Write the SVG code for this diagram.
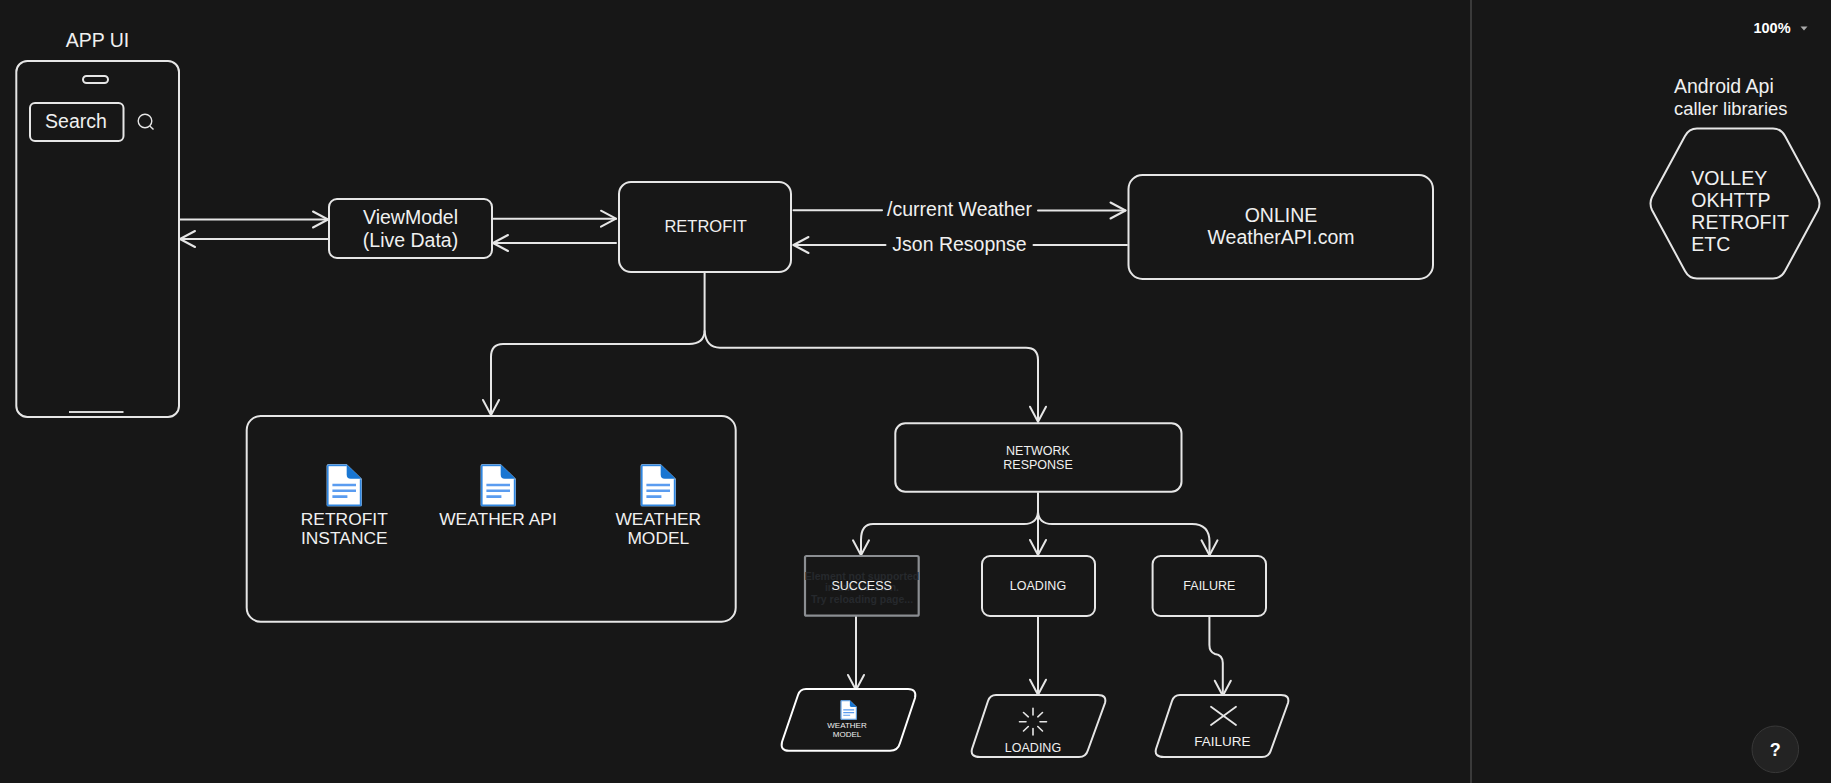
<svg xmlns="http://www.w3.org/2000/svg" xmlns:xlink="http://www.w3.org/1999/xlink" width="1831" height="783" viewBox="0 0 1831 783">
<style>
text{font-family:"Liberation Sans",Arial,sans-serif;fill:#f0f0f0;text-anchor:middle}
.b{fill:#171717;stroke:#e6e6e6;stroke-width:2}
.l{fill:none;stroke:#e6e6e6;stroke-width:2;stroke-linejoin:round;stroke-linecap:round}
.a{marker-end:url(#arrow)}
.t19{font-size:19.5px}
.t17{font-size:17.4px}
.t12{font-size:12.5px}
.st{text-anchor:start}
</style>
<defs>
<marker id="arrow" markerUnits="userSpaceOnUse" viewBox="-17 -10 19 20" markerWidth="19" markerHeight="20" refX="0" refY="0" orient="auto">
<path d="M-15 -8L0 0L-15 8" fill="none" stroke="#e6e6e6" stroke-width="2" stroke-linecap="round" stroke-linejoin="round"/>
</marker>
<symbol id="doc" viewBox="0 0 35 42" overflow="visible">
<path d="M1.5 0H20L35 14.500V40.500Q35 42 33.500 42H1.500Q0 42 0 40.500V1.500Q0 0 1.500 0Z" fill="#fff"/>
<path d="M1.500 1H19V41H1.500Z" fill="none"/>
<path d="M1 1V41H34V15" fill="none" stroke="#2f86e0" stroke-width="1.800"/>
<path d="M1 1H20" fill="none" stroke="#2f86e0" stroke-width="1.800"/>
<path d="M20 0L35 14.500H24Q20 14.500 20 10.500Z" fill="#1976d2"/>
<path d="M5.700 20.700H29.300M5.700 26.500H29.300M5.700 32.300H20.700" stroke="#5a9cf0" stroke-width="2.600" fill="none"/>
</symbol>
</defs>
<rect width="1831" height="783" fill="#171717"/>
<path d="M1471 0V783" stroke="#444" stroke-width="1.600"/>
<g id="zoom-control">
<text x="1772" y="33" style="font-size:14.500px;font-weight:700;fill:#fff">100%</text>
<path d="M1800.500 26.500H1807.500L1804 30.500Z" fill="#aaa"/>
</g>
<g id="help">
<circle cx="1775.300" cy="749.300" r="23.300" fill="#232323" stroke="#383838" stroke-width="1"/>
<text x="1775.300" y="756" style="font-size:18px;font-weight:700;fill:#fff">?</text>
</g>
<g id="connectors">
<path class="l a" d="M180 219.500H328"/>
<path class="l a" d="M328 239H180"/>
<path class="l a" d="M493.500 218.700H616"/>
<path class="l a" d="M616 243H493"/>
<path class="l" d="M793.500 210.300H882"/>
<path class="l a" d="M1038 210.500H1125.500"/>
<path class="l" d="M1127 245H1033.500"/>
<path class="l a" d="M885.500 245H793.500"/>
<path class="l" d="M704.600 273V331Q704 344 689 344H503Q491 344 491 357"/>
<path class="l a" d="M491 357V415"/>
<path class="l" d="M704.600 331Q706 347.700 720 347.700H1026Q1038 347.700 1038 360"/>
<path class="l a" d="M1038 360V421.700"/>
<path class="l a" d="M1038 493V555"/>
<path class="l a" d="M1038 512Q1037 524 1024 524H873Q861 524 861 540V555.300"/>
<path class="l a" d="M1038 512Q1039 524 1052 524H1192Q1209.500 524 1209.500 542V555.300"/>
<path class="l a" d="M856 616V690"/>
<path class="l a" d="M1038 616V694.700"/>
<path class="l a" d="M1209.400 617V645Q1209.400 652 1215 654Q1222.800 655 1222.800 663V695.700"/>
</g>
<g id="app-ui">
<text class="t19" x="97.500" y="47">APP UI</text>
<rect class="b" x="16.300" y="61" width="162.700" height="356" rx="11"/>
<rect x="83" y="76" width="25" height="7" rx="3.500" class="b"/>
<rect x="30" y="103" width="93.500" height="38" rx="5" class="b"/>
<text class="t19" x="76" y="128">Search</text>
<circle cx="145" cy="121" r="6.800" fill="none" stroke="#e6e6e6" stroke-width="1.400"/>
<path d="M149.800 126L153.500 129.500" fill="none" stroke="#e6e6e6" stroke-width="1.400"/>
<path d="M69 412H123.500" stroke="#d8d8d8" stroke-width="2" fill="none"/>
</g>
<g id="viewmodel">
<rect class="b" x="329" y="199" width="163" height="59" rx="8"/>
<text class="t19" x="410.500" y="224">ViewModel</text>
<text class="t19" x="410.500" y="246.500">(Live Data)</text>
</g>
<g id="retrofit">
<rect class="b" x="619" y="182" width="172" height="90" rx="12"/>
<text x="705.700" y="232" style="font-size:16.500px">RETROFIT</text>
</g>
<g id="label-current-weather"><text class="t19" x="959.500" y="216">/current Weather</text></g>
<g id="label-json-response"><text class="t19" x="959.500" y="250.700">Json Resopnse</text></g>
<g id="online">
<rect class="b" x="1128.500" y="175" width="304.500" height="104" rx="14"/>
<text class="t19" x="1281" y="222">ONLINE</text>
<text class="t19" x="1281" y="244">WeatherAPI.com</text>
</g>
<g id="libraries">
<text class="t19 st" x="1674" y="93.300">Android Api</text>
<text class="st" x="1674" y="115" style="font-size:18.400px">caller libraries</text>
<path class="b" d="M1697 128.500H1773Q1781 128.500 1785 136L1818 197Q1821 203.300 1818 210L1785 271Q1781 278.500 1773 278.500H1697Q1689 278.500 1685 271L1652 210Q1649 203.300 1652 197L1685 136Q1689 128.500 1697 128.500Z"/>
<text class="t19 st" x="1691.300" y="185.300">VOLLEY</text>
<text class="t19 st" x="1691.300" y="207.300">OKHTTP</text>
<text class="t19 st" x="1691.300" y="229.300">RETROFIT</text>
<text class="t19 st" x="1691.300" y="251.300">ETC</text>
</g>
<g id="files">
<rect class="b" x="246.700" y="416" width="489" height="205.700" rx="14"/>
<use href="#doc" x="326.700" y="464.300" width="35" height="42"/>
<use href="#doc" x="480.700" y="464.300" width="35" height="42"/>
<use href="#doc" x="640.700" y="464.300" width="35" height="42"/>
<text class="t17" x="344.300" y="525">RETROFIT</text>
<text class="t17" x="344.300" y="544.300">INSTANCE</text>
<text class="t17" x="498" y="525">WEATHER API</text>
<text class="t17" x="658.300" y="525">WEATHER</text>
<text class="t17" x="658.300" y="544.300">MODEL</text>
</g>
<g id="network-response">
<rect class="b" x="895.300" y="423.300" width="286.200" height="68.400" rx="10"/>
<text class="t12" x="1038" y="455">NETWORK</text>
<text class="t12" x="1038" y="469">RESPONSE</text>
</g>
<g id="success">
<rect x="805" y="556" width="113.700" height="59.700" rx="1.500" fill="#171717" stroke="#8b8e92" stroke-width="2.200"/>
<g style="font-size:10.500px;font-weight:700">
<text x="862" y="580" style="fill:#26292d">Element not supported</text>
<text x="862" y="591" style="fill:#26292d">in this version.</text>
<text x="862" y="602.500" style="fill:#26292d">Try reloading page...</text>
</g>
<text class="t12" x="861.600" y="590.300">SUCCESS</text>
</g>
<g id="loading">
<rect class="b" x="982" y="556" width="113" height="60" rx="8"/>
<text class="t12" x="1038" y="590">LOADING</text>
</g>
<g id="failure">
<rect class="b" x="1152.600" y="556" width="113.400" height="60" rx="8"/>
<text class="t12" x="1209.400" y="590">FAILURE</text>
</g>
<g id="success-result">
<path class="b" style="stroke:#fff" d="M806 689H908Q917 689 915 698L900 743Q898 750.700 890 750.700H789Q780 750.700 782 742L798 695Q800 689 806 689Z"/>
<use href="#doc" x="840.600" y="700" width="16.200" height="20"/>
<text x="847" y="728.300" style="font-size:8px">WEATHER</text>
<text x="847" y="737" style="font-size:8px">MODEL</text>
</g>
<g id="loading-result">
<path class="b" d="M996 695H1098Q1107 695 1105 703L1088 750Q1086 757 1079 757H980Q970 757 972 749L988 701Q990 695 996 695Z"/>
<path fill="none" stroke="#e6e6e6" stroke-width="1.600" stroke-linecap="round" d="M1033 708.300V715M1033 728.500V735M1019.500 721.700H1026M1040 721.700H1046.500M1023.500 712.500L1028.300 716.800M1037.800 726.500L1042.500 731M1042.500 712.500L1037.800 716.800M1028.300 726.500L1023.500 731"/>
<text class="t12" x="1033" y="751.700">LOADING</text>
</g>
<g id="failure-result">
<path class="b" d="M1180 695H1281Q1290 695 1288 703L1271 750Q1269 757 1262 757H1164Q1154 757 1156 749L1172 701Q1174 695 1180 695Z"/>
<path fill="none" stroke="#e6e6e6" stroke-width="1.800" stroke-linecap="round" d="M1211 725L1236 706.700M1211 706.700L1236 725"/>
<text x="1222.500" y="745.700" style="font-size:13.500px">FAILURE</text>
</g>
</svg>
